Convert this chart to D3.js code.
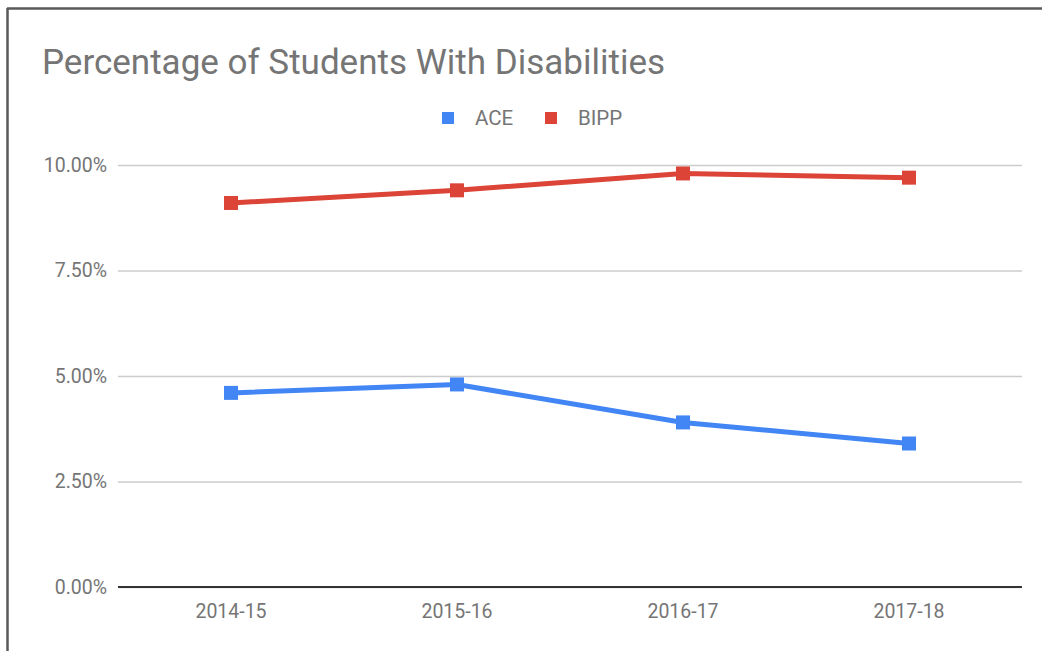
<!DOCTYPE html>
<html>
<head>
<meta charset="utf-8">
<script src="https://cdn.jsdelivr.net/npm/d3@7/dist/d3.min.js"></script>
<style>
  body { margin: 0; background: #fff; }
  text { font-family: Roboto, "Noto Sans", sans-serif; }
</style>
</head>
<body>
<div id="chart"></div>
<script>

// data
let years = ["2014-15", "2015-16", "2016-17", "2017-18"];
let ace = [4.6, 4.8, 3.9, 3.4];
let bipp = [9.1, 9.4, 9.8, 9.7];
let seriesNames = ["ACE", "BIPP"];
let seriesColors = ["#4285f4", "#db4437"];
let yTicks = [0, 2.5, 5, 7.5, 10];

let svgWidth = 1042, svgHeight = 651;
let margin = {top: 165, right: 20, bottom: 64, left: 118};
let width = svgWidth - margin.left - margin.right,
    height = svgHeight - margin.top - margin.bottom;

let svg = d3.select("#chart").append("svg")
    .attr("width", svgWidth)
    .attr("height", svgHeight);

// outer frame (top and left edges only visible)
svg.append("line").attr("x1", 7).attr("x2", svgWidth).attr("y1", 8.5).attr("y2", 8.5)
    .attr("stroke", "#595959").attr("stroke-width", 2.5);
svg.append("line").attr("x1", 7.5).attr("x2", 7.5).attr("y1", 8).attr("y2", svgHeight)
    .attr("stroke", "#595959").attr("stroke-width", 2.5);

svg.append("text")
    .attr("x", 42).attr("y", 74)
    .attr("font-size", "35px")
    .attr("fill", "#757575")
    .text("Percentage of Students With Disabilities");

// legend
let legend = svg.append("g");
let legendX = [442, 545];
seriesNames.forEach(function(name, i) {
    legend.append("rect")
        .attr("x", legendX[i]).attr("y", 112)
        .attr("width", 12).attr("height", 12)
        .attr("fill", seriesColors[i]);
    legend.append("text")
        .attr("x", legendX[i] + 33).attr("y", 125)
        .attr("font-size", "20.5px")
        .attr("fill", "#757575")
        .text(name);
});

let g = svg.append("g")
    .attr("transform", "translate(" + margin.left + "," + margin.top + ")");

let x = d3.scaleBand().domain(years).range([0, width]);
let y = d3.scaleLinear().domain([0, 10]).range([height, 0]);

// gridlines + y labels
let yAxis = g.append("g")
    .call(d3.axisLeft(y).tickValues(yTicks).tickSize(-width)
        .tickFormat(function(d) { return d.toFixed(2) + "%"; }));
yAxis.select(".domain").remove();
yAxis.selectAll(".tick line").attr("stroke", "#cccccc").attr("stroke-width", 1.5);
yAxis.selectAll(".tick text")
    .attr("x", -11)
    .attr("font-size", "19.5px")
    .attr("font-family", "Roboto, sans-serif")
    .attr("fill", "#757575");

// baseline
g.append("line")
    .attr("x1", 0).attr("x2", width)
    .attr("y1", y(0)).attr("y2", y(0))
    .attr("stroke", "#333333").attr("stroke-width", 2);

// x labels
let xAxis = g.append("g")
    .attr("transform", "translate(0," + height + ")")
    .call(d3.axisBottom(x).tickSize(0).tickPadding(17));
xAxis.select(".domain").remove();
xAxis.selectAll(".tick text")
    .attr("font-size", "19.5px")
    .attr("font-family", "Roboto, sans-serif")
    .attr("fill", "#757575");

let line = d3.line()
    .x(function(d, i) { return x(years[i]) + x.bandwidth() / 2; })
    .y(function(d) { return y(d); });

[ace, bipp].forEach(function(values, s) {
    g.append("path")
        .datum(values)
        .attr("fill", "none")
        .attr("stroke", seriesColors[s])
        .attr("stroke-width", 5)
        .attr("stroke-linejoin", "round")
        .attr("d", line);

    g.selectAll(".pt" + s)
        .data(values)
        .enter()
        .append("rect")
        .attr("class", "pt" + s)
        .attr("x", function(d, i) { return x(years[i]) + x.bandwidth() / 2 - 7; })
        .attr("y", function(d) { return y(d) - 7; })
        .attr("width", 14)
        .attr("height", 14)
        .attr("fill", seriesColors[s]);
});

</script>
</body>
</html>
